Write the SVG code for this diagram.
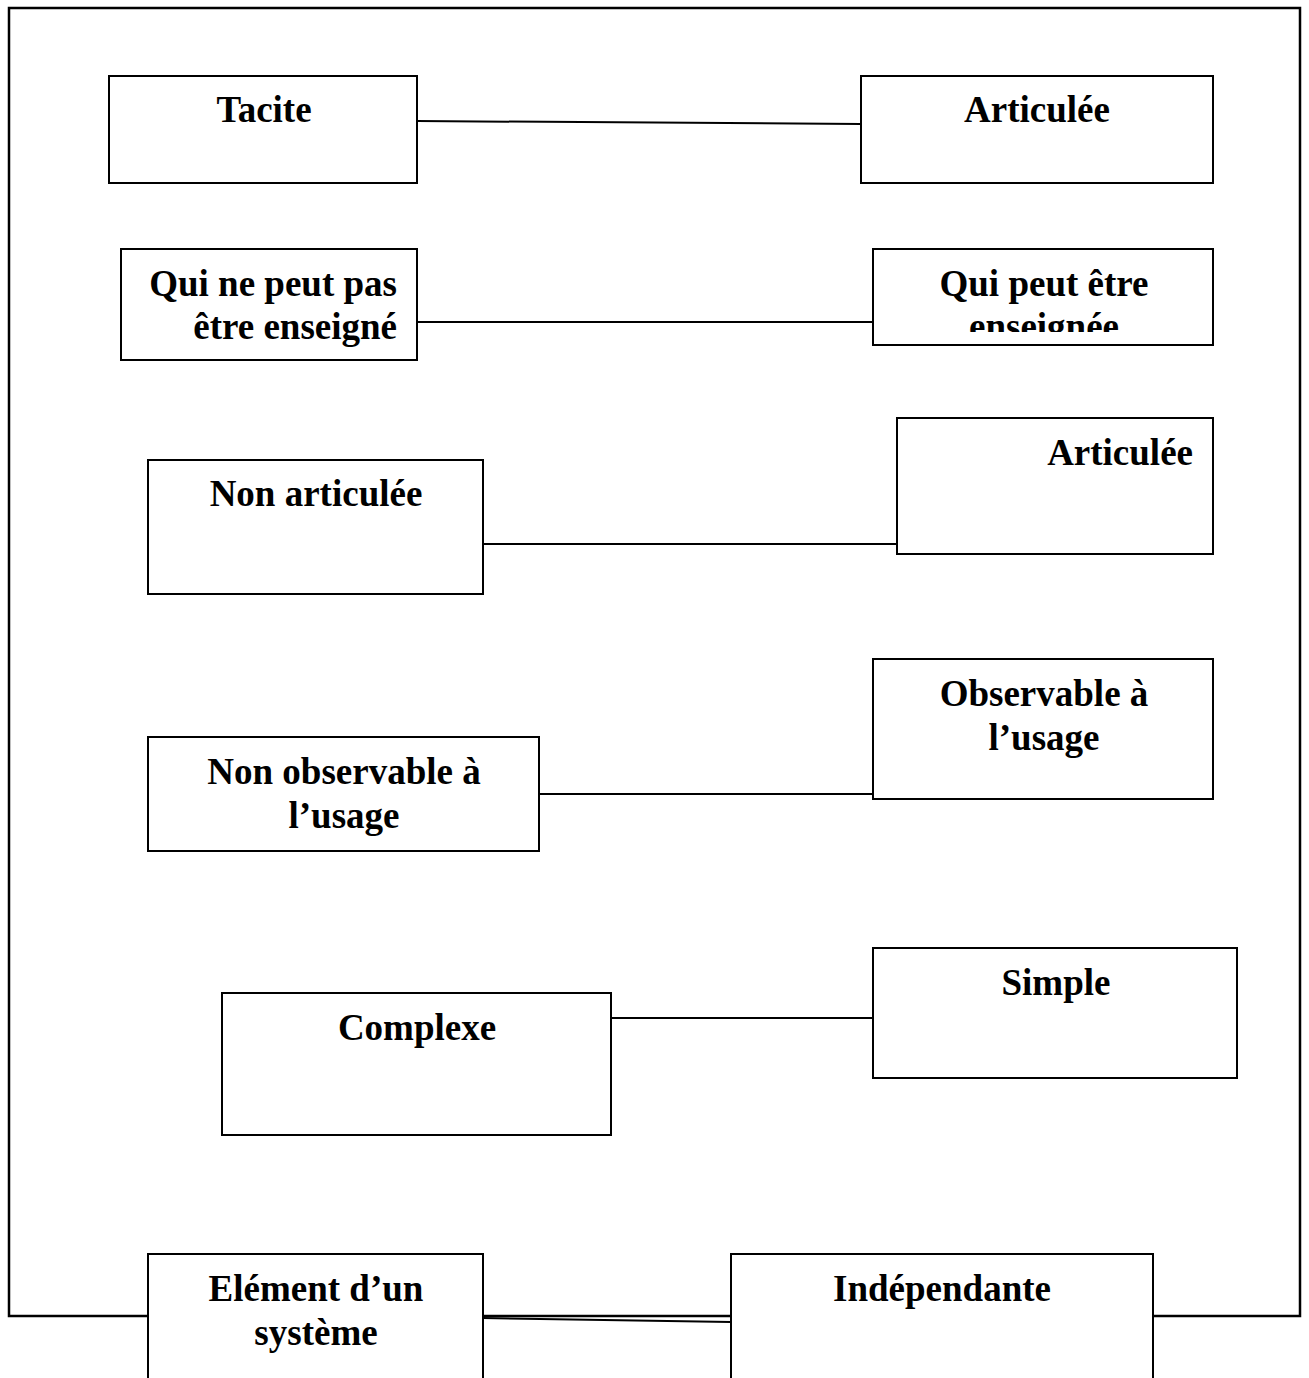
<svg xmlns="http://www.w3.org/2000/svg" width="1309" height="1378" viewBox="0 0 1309 1378">
<style>
.box{fill:#fff;stroke:#000;stroke-width:2}
.t{font-family:"Liberation Serif","Times New Roman",serif;font-weight:bold;font-size:37px;fill:#000}
.c{stroke:#000;stroke-width:2;fill:none}
</style>
<defs><clipPath id="clipQ"><rect x="873" y="249" width="340" height="83"/></clipPath></defs>
<rect x="9" y="8" width="1291" height="1308" fill="#fff" stroke="#000" stroke-width="2.5"/>
<g id="connectors">
<line class="c" x1="417" y1="121" x2="861" y2="124"/>
<line class="c" x1="417" y1="322" x2="873" y2="322"/>
<line class="c" x1="483" y1="544" x2="897" y2="544"/>
<line class="c" x1="539" y1="794" x2="873" y2="794"/>
<line class="c" x1="611" y1="1018" x2="873" y2="1018"/>
<line class="c" x1="483" y1="1318" x2="731" y2="1322"/>
</g>
<g id="n1"><rect class="box" x="109" y="76" width="308" height="107"/><text class="t" x="264" y="122" text-anchor="middle">Tacite</text></g>
<g id="n2"><rect class="box" x="861" y="76" width="352" height="107"/><text class="t" x="1037" y="122" text-anchor="middle">Articulée</text></g>
<g id="n3"><rect class="box" x="121" y="249" width="296" height="111"/><text class="t" text-anchor="end"><tspan x="397" y="296">Qui ne peut pas</tspan><tspan x="397" y="339">être enseigné</tspan></text></g>
<g id="n4"><rect class="box" x="873" y="249" width="340" height="96"/><text class="t" text-anchor="middle" clip-path="url(#clipQ)"><tspan x="1044" y="296">Qui peut être</tspan><tspan x="1044" y="339">enseignée</tspan></text></g>
<g id="n5"><rect class="box" x="148" y="460" width="335" height="134"/><text class="t" x="316" y="506" text-anchor="middle">Non articulée</text></g>
<g id="n6"><rect class="box" x="897" y="418" width="316" height="136"/><text class="t" x="1193" y="465" text-anchor="end">Articulée</text></g>
<g id="n7"><rect class="box" x="148" y="737" width="391" height="114"/><text class="t" text-anchor="middle"><tspan x="344" y="784">Non observable à</tspan><tspan x="344" y="828">l’usage</tspan></text></g>
<g id="n8"><rect class="box" x="873" y="659" width="340" height="140"/><text class="t" text-anchor="middle"><tspan x="1044" y="706">Observable à</tspan><tspan x="1044" y="750">l’usage</tspan></text></g>
<g id="n9"><rect class="box" x="222" y="993" width="389" height="142"/><text class="t" x="417" y="1040" text-anchor="middle">Complexe</text></g>
<g id="n10"><rect class="box" x="873" y="948" width="364" height="130"/><text class="t" x="1056" y="995" text-anchor="middle">Simple</text></g>
<g id="n11"><rect class="box" x="148" y="1254" width="335" height="130"/><text class="t" text-anchor="middle"><tspan x="316" y="1301">Elément d’un</tspan><tspan x="316" y="1345">système</tspan></text></g>
<g id="n12"><rect class="box" x="731" y="1254" width="422" height="130"/><text class="t" x="942" y="1301" text-anchor="middle">Indépendante</text></g>
</svg>
